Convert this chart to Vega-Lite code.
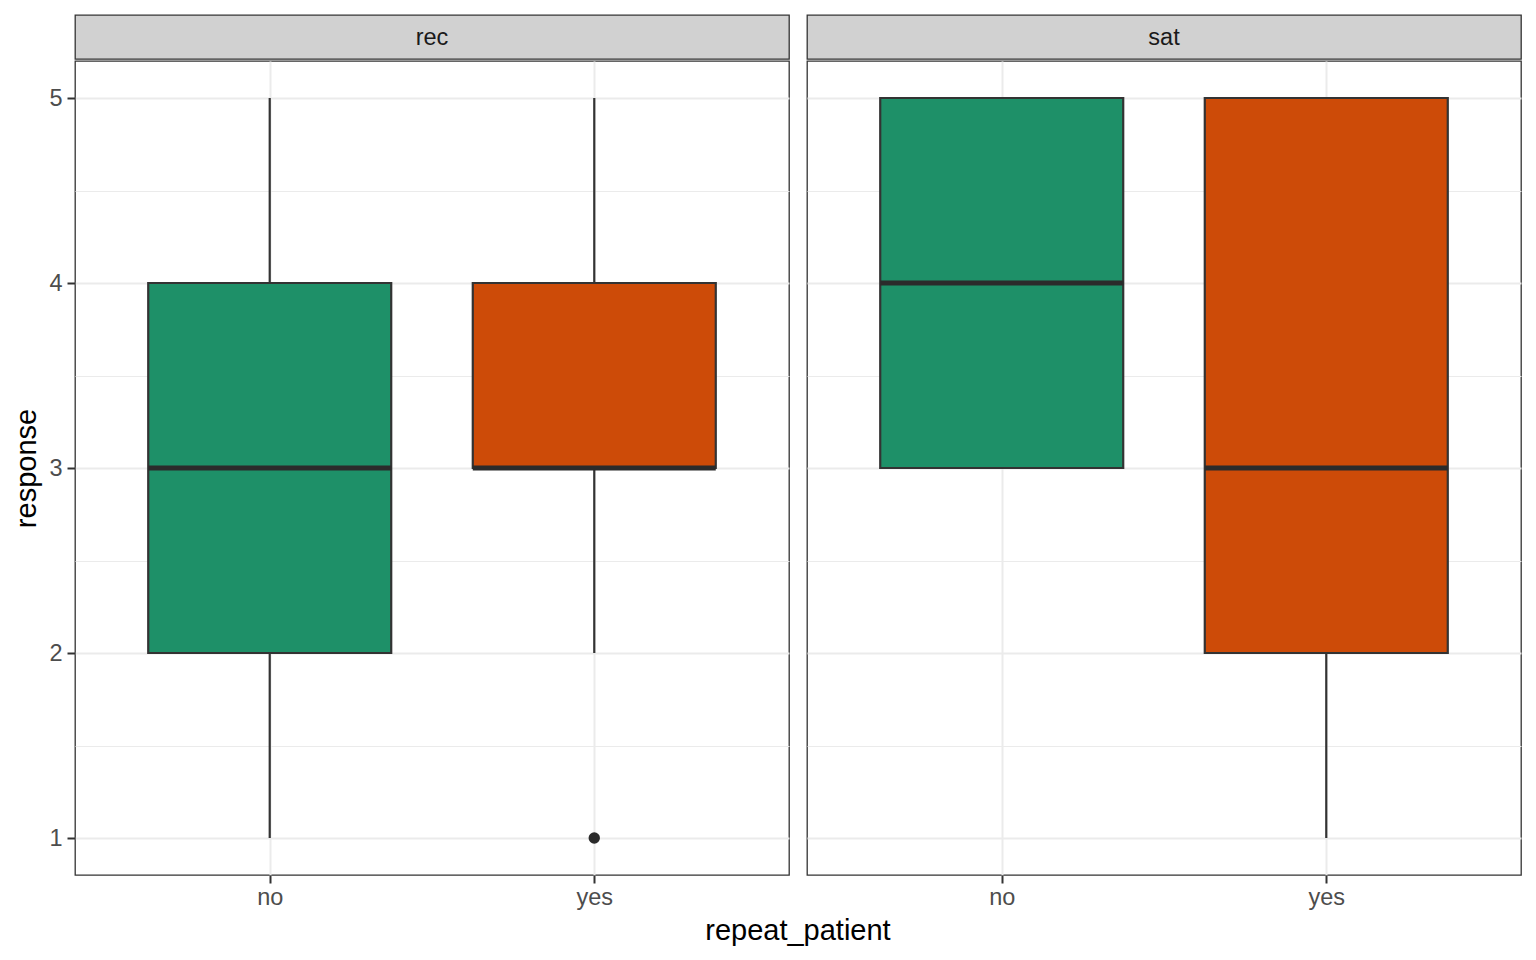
{
  "$schema": "https://vega.github.io/schema/vega-lite/v6.json",
  "background": "white",
  "padding": {"left": 12, "top": 14, "right": 16, "bottom": 10},
  "datasets": {
    "boxes": [
      {"variable": "rec", "repeat_patient": "no", "lower": 1, "q1": 2, "median": 3, "q3": 4, "upper": 5},
      {"variable": "rec", "repeat_patient": "yes", "lower": 2, "q1": 3, "median": 3, "q3": 4, "upper": 5},
      {"variable": "sat", "repeat_patient": "no", "lower": 3, "q1": 3, "median": 4, "q3": 5, "upper": 5},
      {"variable": "sat", "repeat_patient": "yes", "lower": 1, "q1": 2, "median": 3, "q3": 5, "upper": 5}
    ],
    "outliers": [
      {"variable": "rec", "repeat_patient": "yes", "response": 1}
    ]
  },
  "title": {
    "text": "repeat_patient",
    "orient": "bottom",
    "anchor": "middle",
    "fontSize": 29,
    "fontWeight": "normal",
    "color": "#000000",
    "offset": 8,
    "dx": 31
  },
  "spacing": 16,
  "hconcat": [
    {
      "spacing": 0,
      "vconcat": [
        {
          "width": 714,
          "height": 44,
          "view": {"fill": "#d1d1d1", "stroke": "#333333", "strokeWidth": 1.3},
          "data": {"name": "boxes"},
          "transform": [
            {"filter": "datum.variable == 'rec'"},
            {"aggregate": [{"op": "count", "as": "n"}], "groupby": ["variable"]}
          ],
          "mark": {"type": "text", "fontSize": 23.5, "color": "#1a1a1a", "dy": 1},
          "encoding": {"text": {"field": "variable", "type": "nominal"}}
        },
        {
          "width": 714,
          "height": 814,
          "view": {"stroke": "#333333", "strokeWidth": 1.3},
          "encoding": {
            "x": {
              "field": "repeat_patient",
              "type": "nominal",
              "scale": {"type": "point", "padding": 0.6, "domain": ["no", "yes"]},
              "axis": {"title": null, "labelAngle": 0}
            }
          },
          "layer": [
            {
              "data": {"name": "boxes"},
              "transform": [{"filter": "datum.variable == 'rec'"}],
              "mark": {"type": "rule", "color": "#333333", "strokeWidth": 2.2},
              "encoding": {
                "y": {
                  "field": "lower",
                  "type": "quantitative",
                  "title": "response",
                  "scale": {"domain": [0.8, 5.2], "nice": false, "zero": false},
                  "axis": {
                    "values": [1, 1.5, 2, 2.5, 3, 3.5, 4, 4.5, 5],
                    "labelExpr": "datum.value % 1 === 0 ? format(datum.value, 'd') : ''",
                    "gridWidth": {"condition": {"test": "datum.value % 1 === 0", "value": 2}, "value": 1},
                    "tickOpacity": {"condition": {"test": "datum.value % 1 === 0", "value": 1}, "value": 0}
                  }
                },
                "y2": {"field": "upper"}
              }
            },
            {
              "data": {"name": "boxes"},
              "transform": [{"filter": "datum.variable == 'rec'"}],
              "mark": {"type": "bar", "size": 243, "stroke": "#333333", "strokeWidth": 2.2},
              "encoding": {
                "y": {"field": "q1", "type": "quantitative"},
                "y2": {"field": "q3"},
                "color": {
                  "field": "repeat_patient",
                  "type": "nominal",
                  "scale": {"domain": ["no", "yes"], "range": ["#1e9068", "#cd4b08"]},
                  "legend": null
                }
              }
            },
            {
              "data": {"name": "boxes"},
              "transform": [{"filter": "datum.variable == 'rec'"}],
              "mark": {"type": "tick", "size": 243, "thickness": 5, "color": "#2b2b2b", "opacity": 1},
              "encoding": {"y": {"field": "median", "type": "quantitative"}}
            },
            {
              "data": {"name": "outliers"},
              "transform": [{"filter": "datum.variable == 'rec'"}],
              "mark": {"type": "circle", "size": 130, "color": "#2b2b2b", "opacity": 1},
              "encoding": {"y": {"field": "response", "type": "quantitative"}}
            }
          ]
        }
      ]
    },
    {
      "spacing": 0,
      "vconcat": [
        {
          "width": 714,
          "height": 44,
          "view": {"fill": "#d1d1d1", "stroke": "#333333", "strokeWidth": 1.3},
          "data": {"name": "boxes"},
          "transform": [
            {"filter": "datum.variable == 'sat'"},
            {"aggregate": [{"op": "count", "as": "n"}], "groupby": ["variable"]}
          ],
          "mark": {"type": "text", "fontSize": 23.5, "color": "#1a1a1a", "dy": 1},
          "encoding": {"text": {"field": "variable", "type": "nominal"}}
        },
        {
          "width": 714,
          "height": 814,
          "view": {"stroke": "#333333", "strokeWidth": 1.3},
          "encoding": {
            "x": {
              "field": "repeat_patient",
              "type": "nominal",
              "scale": {"type": "point", "padding": 0.6, "domain": ["no", "yes"]},
              "axis": {"title": null, "labelAngle": 0}
            }
          },
          "layer": [
            {
              "data": {"name": "boxes"},
              "transform": [{"filter": "datum.variable == 'sat'"}],
              "mark": {"type": "rule", "color": "#333333", "strokeWidth": 2.2},
              "encoding": {
                "y": {
                  "field": "lower",
                  "type": "quantitative",
                  "scale": {"domain": [0.8, 5.2], "nice": false, "zero": false},
                  "axis": {
                    "title": null,
                    "labels": false,
                    "ticks": false,
                    "domain": false,
                    "values": [1, 1.5, 2, 2.5, 3, 3.5, 4, 4.5, 5],
                    "gridWidth": {"condition": {"test": "datum.value % 1 === 0", "value": 2}, "value": 1}
                  }
                },
                "y2": {"field": "upper"}
              }
            },
            {
              "data": {"name": "boxes"},
              "transform": [{"filter": "datum.variable == 'sat'"}],
              "mark": {"type": "bar", "size": 243, "stroke": "#333333", "strokeWidth": 2.2},
              "encoding": {
                "y": {"field": "q1", "type": "quantitative"},
                "y2": {"field": "q3"},
                "color": {
                  "field": "repeat_patient",
                  "type": "nominal",
                  "scale": {"domain": ["no", "yes"], "range": ["#1e9068", "#cd4b08"]},
                  "legend": null
                }
              }
            },
            {
              "data": {"name": "boxes"},
              "transform": [{"filter": "datum.variable == 'sat'"}],
              "mark": {"type": "tick", "size": 243, "thickness": 5, "color": "#2b2b2b", "opacity": 1},
              "encoding": {"y": {"field": "median", "type": "quantitative"}}
            }
          ]
        }
      ]
    }
  ],
  "config": {
    "font": "Liberation Sans",
    "axis": {
      "domain": false,
      "grid": true,
      "gridColor": "#ebebeb",
      "tickColor": "#333333",
      "tickWidth": 2,
      "tickSize": 8,
      "labelFontSize": 23.5,
      "labelColor": "#4d4d4d",
      "labelPadding": 5,
      "titleFontSize": 29,
      "titleFontWeight": "normal",
      "titleColor": "#000000",
      "titlePadding": 7
    },
    "axisX": {"bandPosition": 0.5, "gridWidth": 2, "labelPadding": 2}
  }
}
